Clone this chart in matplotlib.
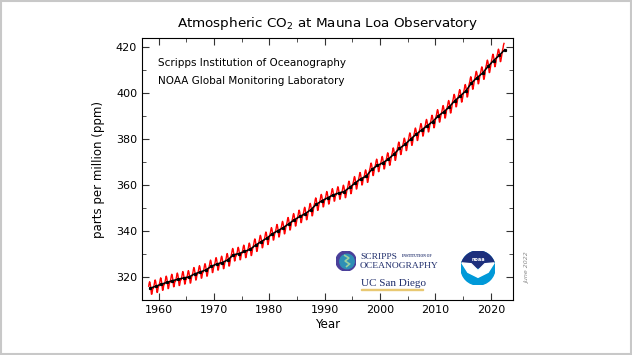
import numpy as np
import matplotlib.pyplot as plt
from matplotlib.patches import Circle, Wedge, Polygon, Rectangle
from matplotlib.ticker import MultipleLocator

# annual mean CO2 at Mauna Loa (ppm), 1958..2022
years = list(range(1958, 2023))
annual_co2 = [315.2, 315.98, 316.91, 317.64, 318.45, 318.99, 319.62, 320.04,
              321.37, 322.18, 323.05, 324.62, 325.68, 326.32, 327.46, 329.68,
              330.19, 331.13, 332.03, 333.84, 335.41, 336.84, 338.76, 340.12,
              341.48, 343.15, 344.87, 346.35, 347.61, 349.31, 351.69, 353.20,
              354.45, 355.70, 356.54, 357.21, 358.96, 360.97, 362.74, 363.88,
              366.84, 368.54, 369.71, 371.32, 373.45, 375.98, 377.70, 379.98,
              382.09, 384.02, 385.83, 387.64, 390.10, 391.85, 394.06, 396.74,
              398.81, 401.01, 404.41, 406.76, 408.72, 411.65, 414.21, 416.41,
              418.9]
# monthly departure from the annual mean (Jan..Dec)
month_offset = [-0.9, 0.0, 0.8, 2.1, 2.75, 2.2, 0.9, -1.05, -2.7, -2.6, -1.25, 0.0]
first_month = 2   # March 1958
last_month = 4    # May 2022

xticks = [1960, 1970, 1980, 1990, 2000, 2010, 2020]
yticks = [320, 340, 360, 380, 400, 420]

# monthly series
t, co2 = [], []
for i, yr in enumerate(years):
    for m in range(12):
        if yr == years[0] and m < first_month:
            continue
        if yr == years[-1] and m > last_month:
            continue
        t.append(yr + (m + 0.5) / 12)
        co2.append(annual_co2[i] + month_offset[m])

fig = plt.figure(figsize=(6.32, 3.55), dpi=100)
fig.patches.append(Rectangle((0.002, 0.004), 0.996, 0.992, transform=fig.transFigure,
                             fill=False, edgecolor='#c8c8c8', lw=1.5))

ax = fig.add_axes([0.2247, 0.1549, 0.587, 0.738])
ax.plot(t, co2, color='red', lw=1.0)
ax.plot(np.array(years) + 0.5, annual_co2, color='black', lw=1.1,
        marker='s', ms=1.3)

ax.set_xlim(1957, 2024)
ax.set_ylim(310, 424)
ax.set_xticks(xticks)
ax.set_yticks(yticks)
ax.xaxis.set_minor_locator(MultipleLocator(5))
ax.yaxis.set_minor_locator(MultipleLocator(10))
ax.tick_params(which='both', direction='in', top=True, right=True,
               labelsize=8, color='#333333')
ax.tick_params(which='major', length=5)
ax.tick_params(which='minor', length=3)
for s in ax.spines.values():
    s.set_linewidth(0.8)

ax.set_xlabel('Year', fontsize=8.5, labelpad=2)
ax.set_ylabel('parts per million (ppm)', fontsize=8.5, labelpad=8)
ax.set_title('Atmospheric CO$_2$ at Mauna Loa Observatory', fontsize=9.7, pad=8)

ax.text(0.042, 0.905, 'Scripps Institution of Oceanography', transform=ax.transAxes,
        fontsize=7.5, va='center')
ax.text(0.042, 0.835, 'NOAA Global Monitoring Laboratory', transform=ax.transAxes,
        fontsize=7.5, va='center')

fig.text(528 / 632, 1 - 268 / 355, 'June 2022', rotation=90, fontsize=4.5,
         color='#888888', ha='center', va='center', style='italic')

# Scripps / UC San Diego logo
navy = '#1f2d6b'
serif = 'Liberation Serif'
fig.text(360 / 632, 1 - 257 / 355, 'SCRIPPS', fontsize=6.8, family=serif,
         color=navy, va='center')
fig.text(402 / 632, 1 - 256 / 355, 'INSTITUTION OF', fontsize=2.6, family=serif,
         color=navy, va='center', weight='bold')
fig.text(360 / 632, 1 - 266.5 / 355, 'OCEANOGRAPHY', fontsize=6.8, family=serif,
         color=navy, va='center')
fig.text(361 / 632, 1 - 283 / 355, 'UC San Diego', fontsize=8, family=serif,
         color=navy, va='center')
fig.patches.append(Rectangle((361 / 632, 1 - 290 / 355), 62 / 632, 1 / 355,
                             transform=fig.transFigure, color='#e8c872'))

lg = fig.add_axes([336 / 632, 1 - 271 / 355, 20 / 632, 20 / 355])
lg.set_xlim(-1, 1)
lg.set_ylim(-1, 1)
lg.set_aspect('equal')
lg.axis('off')
lg.add_patch(Circle((0, 0), 1, color='#4a3f9a'))
lg.add_patch(Circle((0.1, -0.05), 0.72, color='#2e8fb5'))
lg.add_patch(Polygon([(-0.2, 0.6), (0.3, 0.3), (-0.1, 0.0), (0.35, -0.3), (0.0, -0.6)],
                     closed=False, fill=False, edgecolor='#9ad0a0', lw=1.2))

# NOAA logo
nl = fig.add_axes([461 / 632, 1 - 285 / 355, 34 / 632, 34 / 355])
nl.set_xlim(-1, 1)
nl.set_ylim(-1, 1)
nl.set_aspect('equal')
nl.axis('off')
nl.add_patch(Circle((0, 0), 1, color='#0099d8'))
nl.add_patch(Wedge((0, 0), 1, 20, 160, color='#1d2f7c'))
nl.add_patch(Polygon([(-0.95, 0.3), (-0.4, 0.25), (0, -0.15), (0.4, 0.25),
                      (0.95, 0.3), (0.6, -0.25), (0.0, -0.55), (-0.6, -0.25)],
                     color='white'))
nl.text(0, 0.5, 'noaa', color='white', fontsize=3.5, ha='center', va='center',
        weight='bold')

fig.savefig('out.png', dpi=100)
